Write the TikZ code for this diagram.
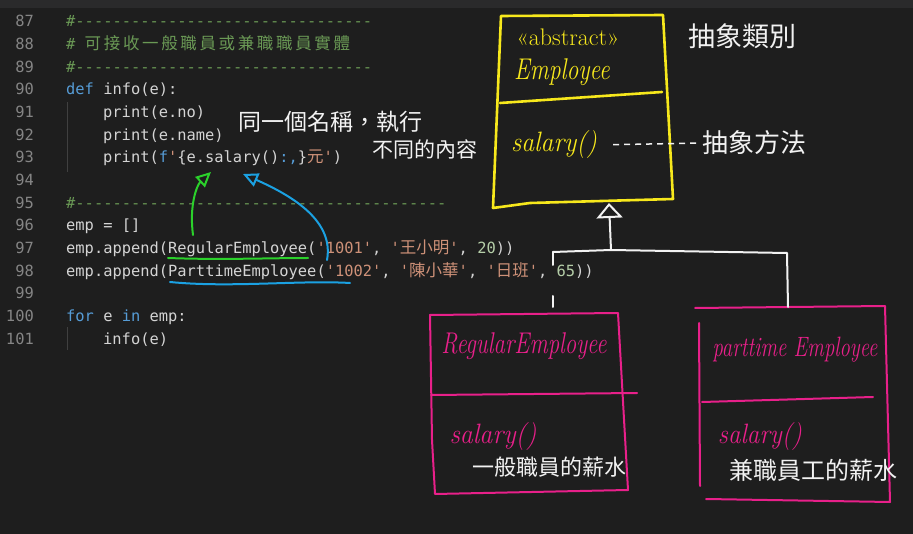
\documentclass[tikz,border=0pt]{standalone}
\usepackage{fontspec}
\usepackage{graphicx}
\usepackage{tikz}
\usepackage{xcolor}
\usetikzlibrary{arrows.meta}
\setmonofont{DejaVu Sans Mono}
\newfontfamily\cjk{Noto Sans CJK TC}
\newfontfamily\cjkwide[LetterSpace=16]{Noto Sans CJK TC}
\definecolor{editorbg}{HTML}{1E1E1E}
\definecolor{tabbar}{HTML}{2A2A2B}
\definecolor{linenum}{HTML}{858585}
\definecolor{comment}{HTML}{6A9955}
\definecolor{keyword}{HTML}{569CD6}
\definecolor{plain}{HTML}{D4D4D4}
\definecolor{string}{HTML}{CE9178}
\definecolor{number}{HTML}{B5CEA8}
\definecolor{guide}{HTML}{404040}
\definecolor{penyellow}{HTML}{F7E81C}
\definecolor{penpink}{HTML}{E8208A}
\definecolor{pengreen}{HTML}{2BD12B}
\definecolor{penblue}{HTML}{1BA1E2}
\definecolor{penwhite}{HTML}{F2F2F2}
\newcommand{\pykw}[1]{\textcolor{keyword}{#1}}
\newcommand{\pystr}[1]{\textcolor{string}{#1}}
\newcommand{\pynum}[1]{\textcolor{number}{#1}}
\newcommand{\pycom}[1]{\textcolor{comment}{#1}}
\newcommand{\pycjk}[1]{{\cjk\fontsize{16.5}{18}\selectfont #1}}
\newcommand{\narrow}[2]{\scalebox{#1}[1]{#2}}
\tikzset{
  codeline/.style={anchor=base west, inner sep=0pt, text=plain, font=\ttfamily\fontsize{15.4}{18}\selectfont},
  lineno/.style={anchor=base east, inner sep=0pt, text=linenum, font=\ttfamily\fontsize{15.4}{18}\selectfont},
  pen/.style={line width=2pt, line cap=round, line join=round},
  handtext/.style={inner sep=0pt, font=\itshape\fontsize{28}{30}\selectfont},
  handcjk/.style={inner sep=0pt, text=penwhite, font=\cjk\fontsize{23}{25}\selectfont},
}

\begin{document}
\begin{tikzpicture}[x=1pt,y=-1pt]
            \fill[editorbg] (0,0) rectangle (913,534);
            \useasboundingbox (0,0) rectangle (913,534);
            \fill[tabbar] (0,0) rectangle (913,8);

            % line numbers
            \node[lineno] (n87) at (34,27) {87};
            \node[lineno] (n88) at (34,49.67) {88};
            \node[lineno] (n89) at (34,72.33) {89};
            \node[lineno] (n90) at (34,95) {90};
            \node[lineno] (n91) at (34,117.67) {91};
            \node[lineno] (n92) at (34,140.33) {92};
            \node[lineno] (n93) at (34,163) {93};
            \node[lineno] (n94) at (34,185.67) {94};
            \node[lineno] (n95) at (34,208.33) {95};
            \node[lineno] (n96) at (34,231) {96};
            \node[lineno] (n97) at (34,253.67) {97};
            \node[lineno] (n98) at (34,276.33) {98};
            \node[lineno] (n99) at (34,299) {99};
            \node[lineno] (n100) at (34,321.67) {100};
            \node[lineno] (n101) at (34,344.33) {101};

            % indent guides
            \draw[guide, line width=1pt] (67,102) -- (67,172);
            \draw[guide, line width=1pt] (67,327) -- (67,350);

            % code
            \node[codeline] (l87) at (66,27) {\pycom{\#--------------------------------}};
            \node[codeline] (l88) at (66,49.67) {\pycom{\# {\cjkwide\fontsize{16.5}{18}\selectfont 可接收一般職員或兼職職員實體}}};
            \node[codeline] (l89) at (66,72.33) {\pycom{\#--------------------------------}};
            \node[codeline] (l90) at (66,95) {\pykw{def} info(e):};
            \node[codeline] (l91) at (103,117.67) {print(e.no)};
            \node[codeline] (l92) at (103,140.33) {print(e.name)};
            \node[codeline] (l93) at (103,163) {print(\pykw{f}\pystr{'}\{e.salary()\pykw{:,}\}\pystr{\pycjk{元}'})};
            \node[codeline] (l95) at (66,208.33) {\pycom{\#----------------------------------------}};
            \node[codeline] (l96) at (66,231) {emp = []};
            \node[codeline] (l97) at (66,253.67) {emp.append(RegularEmployee(\pystr{'1001'}, \pystr{'\pycjk{王小明}'}, \pynum{20}))};
            \node[codeline] (l98) at (66,276.33) {emp.append(ParttimeEmployee(\pystr{'1002'}, \pystr{'\pycjk{陳小華}'}, \pystr{'\pycjk{日班}'}, \pynum{65}))};
            \node[codeline] (l100) at (66,321.67) {\pykw{for} e \pykw{in} emp:};
            \node[codeline] (l101) at (103,344.33) {info(e)};

            % same name, different content
            \node[handcjk] (samename) at (330,122) {同一個名稱，執行};
            \node[handcjk, font=\cjk\fontsize{21}{23}\selectfont] (diffwork) at (425,149) {不同的內容};

            % underlines and arrows to e.salary()
            \coordinate (regul a) at (168,258);
            \coordinate (regul b) at (308,258);
            \coordinate (ptul a) at (170,282);
            \coordinate (ptul b) at (350,283);
            \coordinate (reg use) at (193,235);
            \coordinate (pt use) at (327,260);
            \coordinate (call green) at (211,172);
            \coordinate (call blue) at (243,174);
            \draw[pen, pengreen] (regul a) .. controls (220,260) and (270,258) .. (regul b);
            \draw[pen, penblue] (ptul a) .. controls (230,288) and (300,280) .. (ptul b);
            \draw[pen, pengreen, -{Triangle[open,length=15pt,width=14pt]}] (reg use) .. controls (189,205) and (197,185) .. (call green);
            \draw[pen, penblue, -{Triangle[open,length=15pt,width=14pt]}] (pt use) .. controls (334,222) and (295,197) .. (call blue);

            % abstract class Employee
            \draw[pen, penyellow, line width=2.6pt] (501,16) -- (663,15) -- (673,199) -- (530,203) -- (493,208) -- cycle;
            \draw[pen, penyellow, line width=2.6pt] (500,103) -- (662,92);
            \node[handtext, text=penyellow, font=\fontsize{24}{26}\selectfont] (stereo) at (568,37) {«abstract»};
            \node[handtext, text=penyellow, font=\itshape\fontsize{30}{32}\selectfont] (empname) at (562,72) {\narrow{0.79}{Employee}};
            \node[handtext, text=penyellow] (empsalary) at (554,145) {\narrow{0.92}{salary()}};
            \node[handcjk, font=\cjk\fontsize{27}{29}\selectfont] (absclass) at (742,36) {抽象類別};
            \node[handcjk, font=\cjk\fontsize{26}{28}\selectfont] (absmethod) at (754,143) {抽象方法};
            \draw[penwhite, line width=1.5pt, dash pattern=on 6pt off 5pt, shorten <=16pt, shorten >=3pt] (empsalary.east) -- (absmethod.west);

            % RegularEmployee
            \draw[pen, penpink] (430,315) -- (618,313) -- (628,490) -- (435,494) -- (432,440) -- cycle;
            \draw[pen, penpink] (431,395) -- (637,393);
            \node[handtext, text=penpink, font=\itshape\fontsize{30}{32}\selectfont] (regname) at (524,346) {\narrow{0.76}{RegularEmployee}};
            \node[handtext, text=penpink] (regsalary) at (493,437) {\narrow{0.93}{salary()}};
            \node[handcjk, font=\cjk\fontsize{22}{24}\selectfont] (regpay) at (549,467) {一般職員的薪水};

            % ParttimeEmployee
            \draw[pen, penpink] (695,308) -- (885,306) -- (890,502) -- (706,499);
            \draw[pen, penpink] (699,323) -- (700,486);
            \draw[pen, penpink] (702,402) -- (873,397);
            \node[handtext, text=penpink] (ptname) at (795,350) {\narrow{0.74}{parttime Employee}};
            \node[handtext, text=penpink] (ptsalary) at (760,437) {\narrow{0.9}{salary()}};
            \node[handcjk, font=\cjk\fontsize{24}{26}\selectfont] (ptpay) at (813,470) {兼職員工的薪水};

            % inheritance
            \coordinate (emp base) at (609,203);
            \coordinate (fork) at (611,250);
            \coordinate (reg fork) at (553,252);
            \coordinate (pt fork) at (787,253);
            \coordinate (reg top) at (553,314);
            \coordinate (pt top) at (788,307);
            \draw[pen, penwhite, -{Triangle[open,length=15pt,width=26pt]}] (fork) -- (emp base);
            \draw[pen, penwhite] (reg fork) -- (fork) -- (pt fork) -- (pt top);
            \draw[pen, penwhite, dash pattern=on 13pt off 31pt on 11pt off 30pt] (reg fork) -- (reg top);
        \end{tikzpicture}
\end{document}
